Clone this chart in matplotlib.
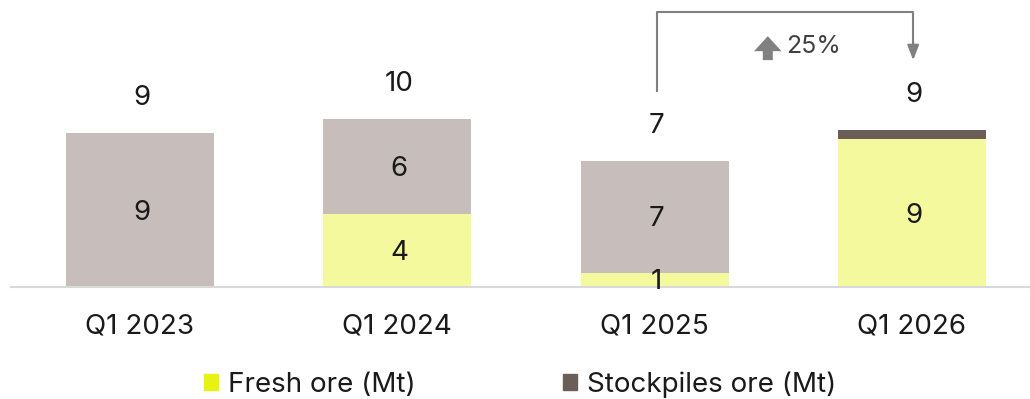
import matplotlib.pyplot as plt
from matplotlib.patches import Patch

plt.rcParams['font.family'] = ['Inter', 'DejaVu Sans']

# Ore processed per quarter (Mt)
quarters = ['Q1 2023', 'Q1 2024', 'Q1 2025', 'Q1 2026']
fresh = [0.0, 4.25, 0.82, 8.64]
stockpiles = [9.0, 5.55, 6.55, 0.53]
growth_label = '25%'

fresh_bar = '#F5F99D'
fresh_key = '#E6F20F'
stock_past = '#C7BDBA'
stock_now = '#6B5E58'
text_col = '#1a1a1a'

fig = plt.figure(figsize=(10.3, 3.99), dpi=100)
ax = fig.add_axes([0.0107, 0.2815, 0.9893, 0.6428])

x = list(range(len(quarters)))
width = 0.575
stock_cols = [stock_past, stock_past, stock_past, stock_now]

ax.bar(x, fresh, width, color=fresh_bar, zorder=2)
ax.bar(x, stockpiles, width, bottom=fresh, color=stock_cols, zorder=2)

for i in x:
    f, s = fresh[i], stockpiles[i]
    if f >= 0.8:
        ax.annotate(f'{f:.0f}', (i, f / 2), xytext=(1.5, -2),
                    textcoords='offset points', ha='center', va='center',
                    fontsize=20, color=text_col, zorder=3)
    if s >= 0.8:
        ax.annotate(f'{s:.0f}', (i, f + s / 2), xytext=(1.5, -2),
                    textcoords='offset points', ha='center', va='center',
                    fontsize=20, color=text_col, zorder=3)
    ax.annotate(f'{f + s:.0f}', (i, f + s), xytext=(1.5, 25),
                textcoords='offset points', ha='center', va='center',
                fontsize=20, color=text_col)

# growth bracket between the last two quarters
arrow_col = '#808080'
x0, x1 = 2.01, 3.005
ax.plot([x0, x0, x1, x1], [11.4, 16.05, 16.05, 14.2], color=arrow_col,
        lw=1.5, clip_on=False, solid_capstyle='butt')
ax.annotate('', xy=(x1, 13.25), xytext=(x1, 14.3),
            arrowprops=dict(arrowstyle='-|>,head_width=0.35,head_length=0.9',
                            color=arrow_col, lw=1.5, shrinkA=0, shrinkB=0),
            annotation_clip=False)
ax.annotate('', xy=(2.44, 14.65), xytext=(2.44, 13.25),
            arrowprops=dict(arrowstyle='simple,head_width=1.1,head_length=0.6,tail_width=0.4',
                            color=arrow_col, lw=0, shrinkA=0, shrinkB=0,
                            mutation_scale=18),
            annotation_clip=False)
ax.text(2.51, 14.05, growth_label, ha='left', va='center', fontsize=18,
        color='#404040', clip_on=False)

ax.set_xlim(-0.501, 3.459)
ax.set_ylim(0, 15)
ax.set_xticks(x)
ax.set_xticklabels(quarters, fontsize=20, color=text_col)
ax.tick_params(axis='x', length=0, pad=19)
ax.set_yticks([])
for side in ['left', 'right', 'top']:
    ax.spines[side].set_visible(False)
ax.spines['bottom'].set_color('#D9D9D9')
ax.spines['bottom'].set_linewidth(1.5)

handles = [Patch(color=fresh_key, label='Fresh ore (Mt)'),
           Patch(color=stock_now, label='Stockpiles ore (Mt)')]
fig.legend(handles=handles, loc='center', bbox_to_anchor=(0.505, 0.036),
           ncol=2, frameon=False, fontsize=20, handlelength=0.5,
           handleheight=0.5, handletextpad=0.35, columnspacing=5.3,
           labelcolor=text_col)

fig.savefig('out.png', dpi=100)
